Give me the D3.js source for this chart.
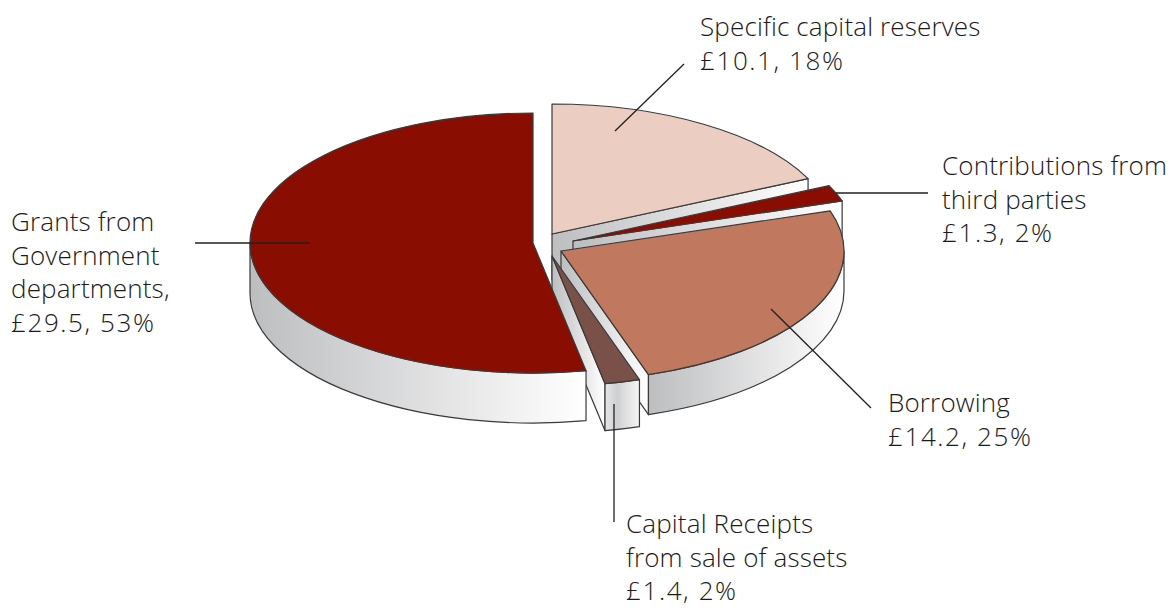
<!DOCTYPE html>
<html>
<head>
<meta charset="utf-8">
<script src="https://cdn.jsdelivr.net/npm/d3@7"></script>
<style>
    html, body { margin: 0; background: #fff; }
    text { font-family: 'Open Sans', sans-serif; font-weight: 300; font-size: 26px; fill: #1c1a1b; }
</style>
</head>
<body>
<svg id="chart" width="1173" height="608"></svg>
<script>
const categories = [
    'Specific capital reserves',
    'Contributions from third parties',
    'Borrowing',
    'Capital Receipts from sale of assets',
    'Grants from Government departments'
];
const amounts = [10.1, 1.3, 14.2, 1.4, 29.5];
const percents = [18, 2, 25, 2, 53];
const topColors = ['#ebcdc2', '#8a0d02', '#c0785f', '#7a5149', '#8a0d02'];
const wallFills = ['url(#wall)', 'url(#wall)', 'url(#wall)', 'url(#wallNarrow)', 'url(#wall)'];

// how far each slice was pulled out of the pie, and how tall its side is
const centres = [[552, 234], [573, 241], [561, 251], [552, 256], [533, 243]];
const depths = [46, 46, 40, 47, 50];
const radiusX = 283;
const radiusY = 130;

const labels = [
    { x: 700, y: 36, lines: ['Specific capital reserves', '£10.1, 18%'], leader: [[615, 131], [684, 64]] },
    { x: 942, y: 175, lines: ['Contributions from', 'third parties', '£1.3, 2%'], leader: [[836, 193], [928, 193]] },
    { x: 888, y: 412, lines: ['Borrowing', '£14.2, 25%'], leader: [[771, 309], [871, 408]] },
    { x: 626, y: 533, lines: ['Capital Receipts', 'from sale of assets', '£1.4, 2%'], leader: [[614, 404], [614, 522]] },
    { x: 11, y: 231, lines: ['Grants from', 'Government', 'departments,', '£29.5, 53%'], leader: [[195, 243], [310, 243]] }
];
const lineHeight = 33.6;

const svg = d3.select('#chart');
const defs = svg.append('defs');

const gradient = defs.append('linearGradient').attr('id', 'wall');
gradient.append('stop').attr('offset', '0%').attr('stop-color', '#bdbec0');
gradient.append('stop').attr('offset', '100%').attr('stop-color', '#ffffff');

const narrowGradient = defs.append('linearGradient').attr('id', 'wallNarrow');
narrowGradient.append('stop').attr('offset', '0%').attr('stop-color', '#e6e6e7');
narrowGradient.append('stop').attr('offset', '35%').attr('stop-color', '#cfd0d1');
narrowGradient.append('stop').attr('offset', '100%').attr('stop-color', '#f6f6f6');

const rimX = d3.scaleLinear().domain([-1, 1]).range([-radiusX, radiusX]);
const rimY = d3.scaleLinear().domain([-1, 1]).range([-radiusY, radiusY]);

function rimPoint(centre, angle, drop = 0) {
    return [centre[0] + rimX(Math.sin(angle)), centre[1] + rimY(-Math.cos(angle)) + drop];
}

function topPath(centre, start, end) {
    const from = rimPoint(centre, start);
    const to = rimPoint(centre, end);
    const large = end - start > Math.PI ? 1 : 0;
    return `M${centre}L${from}A${radiusX},${radiusY} 0 ${large} 1 ${to}Z`;
}

function wallPath(centre, start, end, depth) {
    const a = rimPoint(centre, start);
    const b = rimPoint(centre, end);
    const c = rimPoint(centre, end, depth);
    const d = rimPoint(centre, start, depth);
    return `M${a}A${radiusX},${radiusY} 0 0 1 ${b}L${c}A${radiusX},${radiusY} 0 0 0 ${d}Z`;
}

const slices = d3.pie().sort(null).value((d) => d.percent)(
    categories.map((name, i) => ({ name, amount: amounts[i], percent: percents[i], index: i }))
);

const pieGroup = svg.append('g')
    .attr('stroke', '#3a3a3a')
    .attr('stroke-width', 1.2)
    .attr('stroke-linejoin', 'round');

slices.forEach((slice) => {
    const i = slice.data.index;
    const centre = centres[i];
    const depth = depths[i];
    const group = pieGroup.append('g').attr('class', 'slice');

    // only the cut side turned towards the viewer shows
    if (Math.sin(slice.endAngle) > 1e-6) {
        const corners = [
            centre,
            rimPoint(centre, slice.endAngle),
            rimPoint(centre, slice.endAngle, depth),
            [centre[0], centre[1] + depth]
        ];
        group.append('path').attr('d', `M${corners.join('L')}Z`).attr('fill', 'url(#wall)');
    }

    // same for the outer wall: front half of the ellipse only
    const wallStart = Math.max(slice.startAngle, Math.PI / 2);
    const wallEnd = Math.min(slice.endAngle, Math.PI * 1.5);
    if (wallEnd > wallStart) {
        group.append('path').attr('d', wallPath(centre, wallStart, wallEnd, depth)).attr('fill', wallFills[i]);
    }

    group.append('path')
        .attr('d', topPath(centre, slice.startAngle, slice.endAngle))
        .attr('fill', topColors[i]);
});

labels.forEach((label) => {
    svg.append('line')
        .attr('x1', label.leader[0][0])
        .attr('y1', label.leader[0][1])
        .attr('x2', label.leader[1][0])
        .attr('y2', label.leader[1][1])
        .attr('stroke', '#231f20')
        .attr('stroke-width', 1.3);

    const text = svg.append('text').attr('x', label.x).attr('y', label.y);
    label.lines.forEach((line, i) => {
        text.append('tspan')
            .attr('x', label.x)
            .attr('y', label.y + i * lineHeight)
            // the figures in the reference are set wider than these digits
            .attr('letter-spacing', line.startsWith('£') ? 1.6 : 0.15)
            .text(line);
    });
});
</script>
</body>
</html>
